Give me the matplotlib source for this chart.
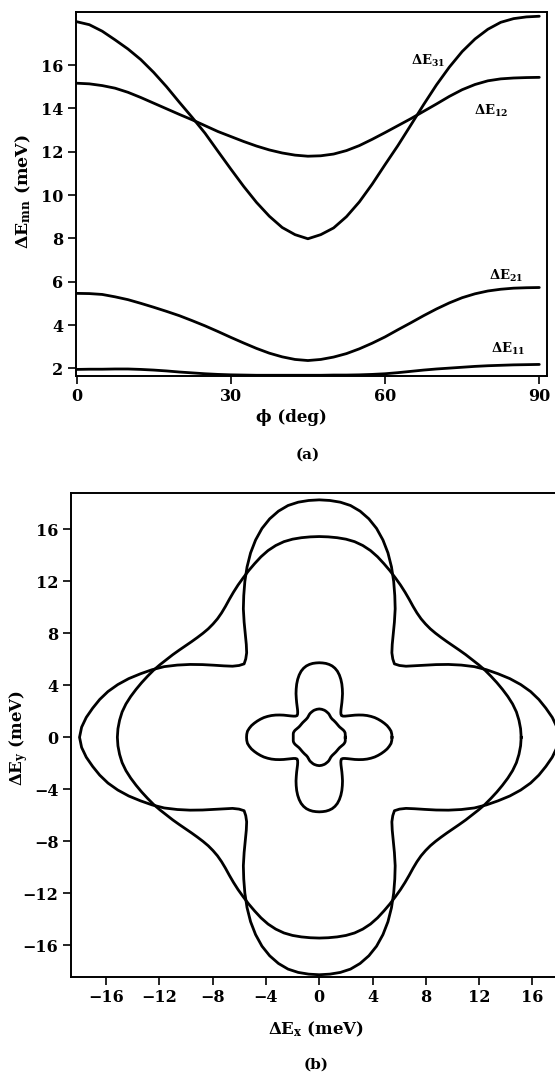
import numpy as np
import matplotlib.pyplot as plt

plt.rcParams['font.family'] = ['DejaVu Serif']
plt.rcParams['font.weight'] = 'bold'
plt.rcParams['mathtext.fontset'] = 'dejavuserif'

# angle phi (deg) and subband energy differences (meV)
phi = [0, 2.5, 5, 7.5, 10, 12.5, 15, 17.5, 20, 22.5, 25, 27.5, 30, 32.5, 35, 37.5,
       40, 42.5, 45, 47.5, 50, 52.5, 55, 57.5, 60, 62.5, 65, 67.5, 70, 72.5, 75,
       77.5, 80, 82.5, 85, 87.5, 90]
dE31 = [18.0, 17.86, 17.56, 17.16, 16.74, 16.25, 15.66, 15.0, 14.28, 13.58, 12.85,
        12.02, 11.2, 10.4, 9.66, 9.02, 8.5, 8.17, 7.98, 8.17, 8.48, 9.0, 9.68,
        10.5, 11.4, 12.28, 13.22, 14.17, 15.08, 15.9, 16.62, 17.2, 17.65, 17.97,
        18.14, 18.22, 18.25]
dE12 = [15.16, 15.13, 15.05, 14.93, 14.74, 14.5, 14.24, 13.98, 13.72, 13.47, 13.2,
        12.93, 12.7, 12.47, 12.26, 12.08, 11.94, 11.84, 11.79, 11.81, 11.89, 12.05,
        12.28, 12.57, 12.88, 13.2, 13.52, 13.86, 14.2, 14.55, 14.86, 15.1, 15.27,
        15.36, 15.4, 15.42, 15.43]
dE21 = [5.46, 5.45, 5.41, 5.3, 5.17, 5.0, 4.82, 4.63, 4.43, 4.2, 3.96, 3.7, 3.43,
        3.17, 2.92, 2.7, 2.53, 2.41, 2.36, 2.41, 2.52, 2.68, 2.9, 3.16, 3.45, 3.78,
        4.1, 4.43, 4.74, 5.02, 5.26, 5.44, 5.57, 5.65, 5.7, 5.72, 5.73]
dE11 = [1.95, 1.96, 1.96, 1.97, 1.97, 1.95, 1.92, 1.88, 1.83, 1.79, 1.75, 1.72, 1.7,
        1.69, 1.68, 1.68, 1.68, 1.68, 1.68, 1.68, 1.69, 1.69, 1.7, 1.72, 1.75, 1.8,
        1.86, 1.92, 1.97, 2.01, 2.05, 2.09, 2.12, 2.14, 2.16, 2.17, 2.18]

curves = [dE31, dE12, dE21, dE11]
names = [r'$\Delta\mathrm{E}_{31}$', r'$\Delta\mathrm{E}_{12}$',
         r'$\Delta\mathrm{E}_{21}$', r'$\Delta\mathrm{E}_{11}$']
name_pos = [(68.5, 16.2), (80.6, 13.9), (83.5, 6.25), (83.9, 2.9)]

W, H = 555, 1076


def px(x, y):
    return x / W, 1 - y / H


fig = plt.figure(figsize=(W / 100, H / 100), dpi=100)

# ---- panel (a)
ax1 = fig.add_axes([76 / W, 1 - 375.7 / H, 471 / W, 364 / H])
for e in curves:
    ax1.plot(phi, e, color='black', lw=2.0, solid_capstyle='round')
for n, (x, y) in zip(names, name_pos):
    ax1.text(x, y, n, fontsize=9.5, ha='center', va='center', fontweight='normal')
ax1.set_xlim(-0.1, 91.5)
ax1.set_ylim(1.66, 18.46)
ax1.set_xticks([0, 30, 60, 90])
ax1.set_yticks(range(2, 17, 2))

# ---- panel (b): same curves drawn in polar form, mirrored into all quadrants
ax2 = fig.add_axes([71 / W, 1 - 976.7 / H, 496 / W, 484 / H])
p = np.radians(phi)
p_full = np.concatenate([p, np.pi - p[::-1], np.pi + p, 2 * np.pi - p[::-1]])
for e in curves:
    e = np.array(e)
    r_full = np.concatenate([e, e[::-1], e, e[::-1]])
    ax2.plot(r_full * np.cos(p_full), r_full * np.sin(p_full), color='black',
             lw=2.0, solid_joinstyle='round')
ax2.set_xlim(-18.64, 18.6)
ax2.set_ylim(-18.4, 18.8)
ax2.set_xticks(range(-16, 17, 4))
ax2.set_yticks(range(-16, 17, 4))
ax2.spines['right'].set_visible(False)

for ax in (ax1, ax2):
    ax.tick_params(direction='out', length=6, width=1.2, labelsize=11.5, pad=3)
    for s in ax.spines.values():
        s.set_linewidth(1.4)

# labels
fig.text(*px(23, 192), r'$\Delta\mathbf{E}_{\mathrm{mn}}$ (meV)', rotation=90,
         ha='center', va='center', fontsize=12.5)
fig.text(*px(291, 418), 'ϕ (deg)', ha='center', va='center', fontsize=12)
fig.text(*px(308, 455), '(a)', ha='center', va='center', fontsize=11)
fig.text(*px(19, 738), r'$\Delta\mathbf{E}_{\mathrm{y}}$ (meV)', rotation=90,
         ha='center', va='center', fontsize=12)
fig.text(*px(316, 1029), r'$\Delta\mathbf{E}_{\mathrm{x}}$ (meV)', ha='center',
         va='center', fontsize=12)
fig.text(*px(316, 1065), '(b)', ha='center', va='center', fontsize=11)

fig.savefig('out.png', dpi=100)
